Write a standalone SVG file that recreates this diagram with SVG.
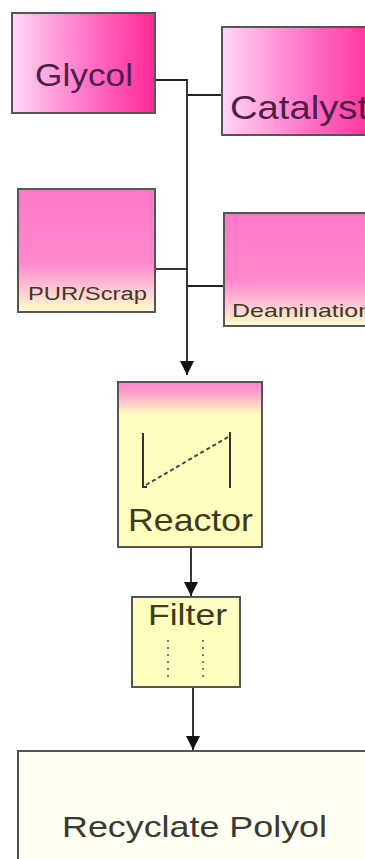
<svg xmlns="http://www.w3.org/2000/svg" width="365" height="859" viewBox="0 0 365 859">
<defs>
<linearGradient id="pinkH" x1="0" y1="0" x2="1" y2="0">
<stop offset="0" stop-color="#ffd6f6"/>
<stop offset="0.55" stop-color="#ff70c4"/>
<stop offset="1" stop-color="#ff2896"/>
</linearGradient>
<linearGradient id="pinkV" x1="0" y1="0" x2="0" y2="1">
<stop offset="0" stop-color="#ff78c8"/>
<stop offset="0.6" stop-color="#ff88cc"/>
<stop offset="0.82" stop-color="#ffc8d8"/>
<stop offset="1" stop-color="#ffffc8"/>
</linearGradient>
<linearGradient id="reactorV" x1="0" y1="0" x2="0" y2="1">
<stop offset="0" stop-color="#ff80c8"/>
<stop offset="0.06" stop-color="#ff9ccc"/>
<stop offset="0.2" stop-color="#ffffc0"/>
<stop offset="1" stop-color="#ffffc0"/>
</linearGradient>
<marker id="arrow" viewBox="0 0 14 14" markerWidth="14" markerHeight="14" refX="14" refY="7" orient="auto" markerUnits="userSpaceOnUse">
<path d="M0,0 L14,7 L0,14 Z" fill="#111"/>
</marker>
</defs>
<style>
.box{stroke:#555;stroke-width:2}
.lbl{font-family:"Liberation Sans",Arial,sans-serif}
.pk{fill:#4e1f48}
.ol{fill:#3e3a1a}
.conn{stroke:#222;stroke-width:1.8;fill:none}
</style>
<rect width="365" height="859" fill="#ffffff"/>
<g id="connectors">
<path class="conn" d="M155,80 H187 V375" stroke="#555" marker-end="url(#arrow)"/>
<path class="conn" d="M187,95 H222"/>
<path class="conn" d="M155,269 H187"/>
<path class="conn" d="M187,286 H224"/>
<path class="conn" d="M191,547 V596" marker-end="url(#arrow)"/>
<path class="conn" d="M193,687 V750" marker-end="url(#arrow)"/>
</g>
<g id="glycol">
<rect class="box" x="12" y="13" width="143" height="100" fill="url(#pinkH)"/>
<text class="lbl pk" x="35" y="86" font-size="31" textLength="98" lengthAdjust="spacingAndGlyphs">Glycol</text>
</g>
<g id="catalyst">
<rect class="box" x="222" y="27" width="160" height="108" fill="url(#pinkH)"/>
<text class="lbl pk" x="230" y="119" font-size="34" textLength="138" lengthAdjust="spacingAndGlyphs">Catalyst</text>
</g>
<g id="pur-scrap">
<rect class="box" x="18" y="189" width="137" height="123" fill="url(#pinkV)"/>
<text class="lbl ol" x="28" y="300" font-size="18" textLength="119" lengthAdjust="spacingAndGlyphs">PUR/Scrap</text>
</g>
<g id="deamination">
<rect class="box" x="224" y="213" width="160" height="113" fill="url(#pinkV)"/>
<text class="lbl ol" x="232" y="317" font-size="19" textLength="140" lengthAdjust="spacingAndGlyphs">Deamination</text>
</g>
<g id="reactor">
<rect class="box" x="118" y="382" width="144" height="165" fill="url(#reactorV)"/>
<path d="M143,433 V487 H147" stroke="#333" stroke-width="2" fill="none"/>
<path d="M146,485 L228,437" stroke="#444" stroke-width="2" stroke-dasharray="4,3" fill="none"/>
<path d="M230,432 V488" stroke="#333" stroke-width="2" fill="none"/>
<text class="lbl ol" x="128" y="531" font-size="32" textLength="125" lengthAdjust="spacingAndGlyphs">Reactor</text>
</g>
<g id="filter">
<rect class="box" x="132" y="597" width="108" height="90" fill="#ffffc0"/>
<text class="lbl ol" x="148" y="625" font-size="30" textLength="79" lengthAdjust="spacingAndGlyphs">Filter</text>
<path d="M168,640 V679 M203,640 V679" stroke="#777" stroke-width="2" stroke-dasharray="2,5" fill="none"/>
</g>
<g id="recyclate-polyol">
<rect class="box" x="18" y="751" width="360" height="120" fill="#fffff4"/>
<text class="lbl" x="62" y="837" font-size="30" fill="#3a3a30" textLength="265" lengthAdjust="spacingAndGlyphs">Recyclate Polyol</text>
</g>
</svg>
